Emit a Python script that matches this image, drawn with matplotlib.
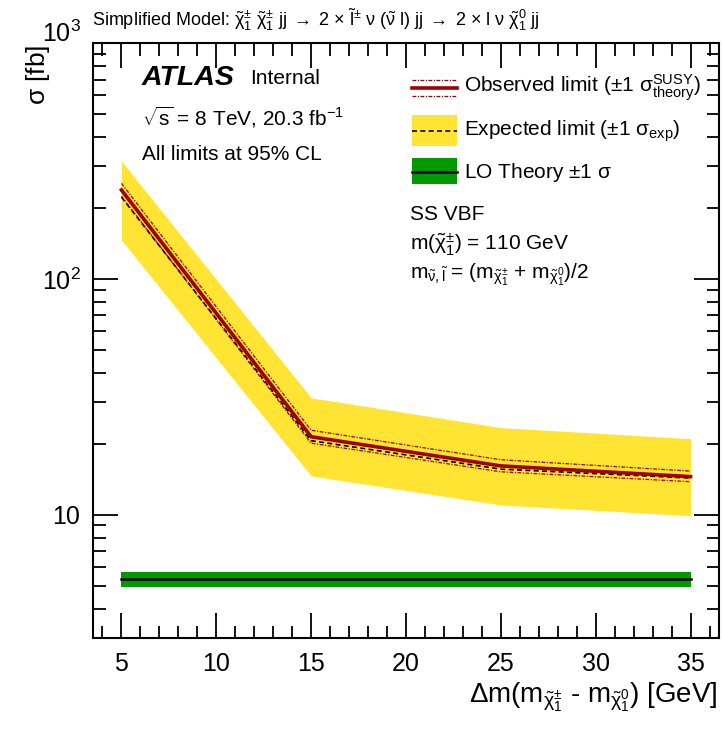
# -*- coding: utf-8 -*-
import numpy as np
import matplotlib
matplotlib.use('Agg')
from matplotlib import pyplot as plt
from matplotlib.patches import Rectangle
from matplotlib.lines import Line2D
from matplotlib.transforms import ScaledTranslation
from matplotlib.ticker import MultipleLocator, LogLocator, FixedLocator, NullFormatter

plt.rcParams['font.family'] = ['Liberation Sans', 'DejaVu Sans']
plt.rcParams['mathtext.fontset'] = 'custom'
plt.rcParams['mathtext.rm'] = 'Liberation Sans'
plt.rcParams['mathtext.it'] = 'Liberation Sans:italic'
plt.rcParams['mathtext.bf'] = 'Liberation Sans:bold'
plt.rcParams['mathtext.sf'] = 'Liberation Sans'

# data
dm = [5, 15, 25, 35]
obs = [238, 21.4, 16.1, 14.5]
obs_up = [254, 22.8, 17.1, 15.3]
obs_dn = [224, 20.1, 15.2, 13.8]
exp = [222, 20.6, 15.6, 14.3]
exp_up = [316, 31.3, 23.4, 21.0]
exp_dn = [146, 14.6, 11.0, 9.9]
lo = [5.35, 5.35, 5.35, 5.35]
lo_up = [5.70, 5.70, 5.70, 5.70]
lo_dn = [4.95, 4.95, 4.95, 4.95]

yticks = [10, 100, 1000]
ytick_labels = ['10', '$10^2$', '$10^3$']

W, H = 723, 739
fig = plt.figure(figsize=(W / 100, H / 100), dpi=100)
ax = fig.add_axes([93 / W, 1 - 638 / H, 626 / W, 595 / H])

red = '#a00000'
yellow = '#ffe433'
green = '#009a00'
dashdot = (0, (3, 1.2, 1, 1.2))

# bands and lines
ax.fill_between(dm, exp_dn, exp_up, color=yellow, lw=0, zorder=1)
ax.fill_between(dm, lo_dn, lo_up, color=green, lw=0, zorder=1)
ax.plot(dm, lo, color='black', lw=1.8, zorder=2)
ax.plot(dm, exp, color='black', lw=1.2, ls=(0, (3, 2)), zorder=3)
ax.plot(dm, obs_up, color=red, lw=0.9, ls=dashdot, zorder=3)
ax.plot(dm, obs_dn, color=red, lw=0.9, ls=dashdot, zorder=3)
ax.plot(dm, obs, color=red, lw=2.6, zorder=4)

ax.set_yscale('log')
ax.set_xlim(3.5, 36.5)
ax.set_ylim(3, 1000)

ax.xaxis.set_major_locator(MultipleLocator(5))
ax.xaxis.set_minor_locator(MultipleLocator(1))
ax.yaxis.set_major_locator(FixedLocator(yticks))
ax.set_yticklabels(ytick_labels)
ax.yaxis.set_minor_locator(LogLocator(base=10, subs=np.arange(2, 10)))
ax.yaxis.set_minor_formatter(NullFormatter())

ax.tick_params(which='both', direction='in', top=True, right=True, width=1.3, labelsize=18)
ax.tick_params(which='major', length=18)
ax.tick_params(which='minor', length=9)
ax.tick_params(axis='x', pad=10)
ax.tick_params(axis='y', pad=9)
for s in ax.spines.values():
    s.set_linewidth(1.5)

# ROOT puts the top label a bit higher
top_lbl = ax.yaxis.get_majorticklabels()[-1]
top_lbl.set_transform(top_lbl.get_transform() + ScaledTranslation(0, 12 / 100, fig.dpi_scale_trans))


def fx(px):
    return (px - 93) / 626.0


def fy(py):
    return (638 - py) / 595.0


# legend drawn by hand (ROOT style)
bx0, bx1 = fx(412), fx(457)
ax.add_line(Line2D([bx0, bx1], [fy(80), fy(80)], color=red, lw=0.9, ls=dashdot, transform=ax.transAxes))
ax.add_line(Line2D([bx0, bx1], [fy(96), fy(96)], color=red, lw=0.9, ls=dashdot, transform=ax.transAxes))
ax.add_line(Line2D([bx0, bx1], [fy(88), fy(88)], color=red, lw=2.6, transform=ax.transAxes))
ax.add_patch(Rectangle((bx0, fy(146)), bx1 - bx0, fy(115) - fy(146), color=yellow, lw=0, transform=ax.transAxes))
ax.add_line(Line2D([bx0, bx1], [fy(131), fy(131)], color='black', lw=1.2, ls=(0, (3, 2)), transform=ax.transAxes))
ax.add_patch(Rectangle((bx0, fy(184)), bx1 - bx0, fy(158) - fy(184), color=green, lw=0, transform=ax.transAxes))
ax.add_line(Line2D([bx0, bx1], [fy(172), fy(172)], color='black', lw=1.8, transform=ax.transAxes))

leg_fs = 15
ax.text(fx(464), fy(88), r'Observed limit ($\pm$1 $\mathrm{\sigma}^{\mathrm{SUSY}}_{\mathrm{theory}}$)', fontsize=leg_fs,
        va='center', ha='left', transform=ax.transAxes)
ax.text(fx(464), fy(131), r'Expected limit ($\pm$1 $\mathrm{\sigma}_{\mathrm{exp}}$)', fontsize=leg_fs,
        va='center', ha='left', transform=ax.transAxes)
ax.text(fx(464), fy(172), r'LO Theory $\pm$1 $\mathrm{\sigma}$', fontsize=leg_fs,
        va='center', ha='left', transform=ax.transAxes)

# labels
ax.text(fx(142), fy(78), 'ATLAS', fontsize=20.5, fontweight='bold', fontstyle='italic',
        va='center', ha='left', transform=ax.transAxes)
ax.text(fx(250), fy(79), 'Internal', fontsize=15, va='center', ha='left', transform=ax.transAxes)
ax.text(fx(142), fy(117), r'$\sqrt{\mathrm{s}}$ = 8 TeV, 20.3 fb$^{\mathrm{-1}}$', fontsize=15,
        va='center', ha='left', transform=ax.transAxes)
ax.text(fx(142), fy(155), 'All limits at 95% CL', fontsize=15, va='center', ha='left', transform=ax.transAxes)

ax.text(fx(410), fy(215), 'SS VBF', fontsize=15, va='center', ha='left', transform=ax.transAxes)
ax.text(fx(410), fy(245), r'm($\tilde{\mathrm{\chi}}_1^{\pm}$) = 110 GeV', fontsize=15, va='center', ha='left',
        transform=ax.transAxes)
ax.text(fx(410), fy(275),
        r'm$_{\tilde{\mathrm{\nu}},\tilde{\mathrm{l}}}$ = (m$_{\tilde{\mathrm{\chi}}_1^{\pm}}$ + m$_{\tilde{\mathrm{\chi}}_1^0}$)/2',
        fontsize=15, va='center', ha='left', transform=ax.transAxes)

fig.text(92 / W, 1 - 20 / H,
         r'Simplified Model: $\tilde{\mathrm{\chi}}_1^{\pm}$ $\tilde{\mathrm{\chi}}_1^{\pm}$ jj$\;\rightarrow\;$2 $\times$ '
         r'$\tilde{\mathrm{l}}^{\pm}$ $\mathrm{\nu}$ ($\tilde{\mathrm{\nu}}$ l) jj$\;\rightarrow\;$2 $\times$ l $\mathrm{\nu}$ '
         r'$\tilde{\mathrm{\chi}}_1^0$ jj',
         fontsize=13, va='center', ha='left')

fig.text(38 / W, 1 - 45 / H, r'$\mathrm{\sigma}$ [fb]', fontsize=19, rotation=90, va='top', ha='center')
fig.text(718 / W, 1 - 697 / H,
         r'$\Delta$m(m$_{\tilde{\mathrm{\chi}}_1^{\pm}}$ - m$_{\tilde{\mathrm{\chi}}_1^0}$) [GeV]',
         fontsize=20, va='center', ha='right')

plt.savefig('out.png', dpi=100)
